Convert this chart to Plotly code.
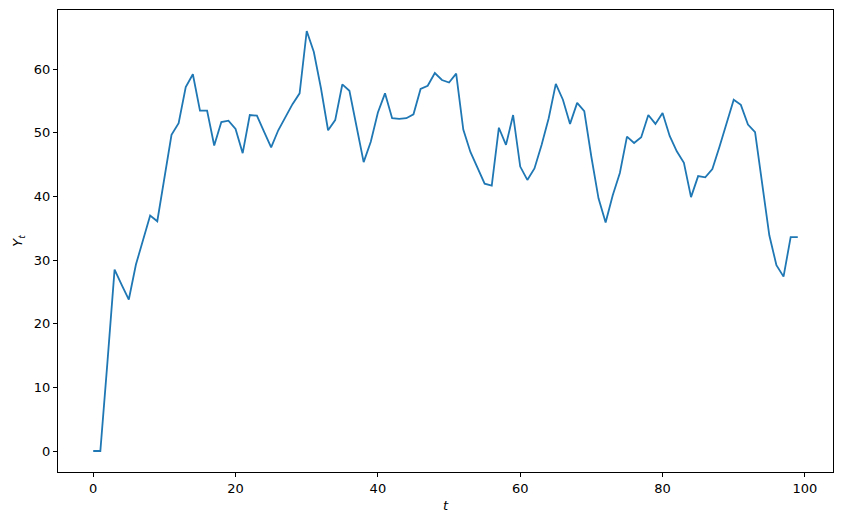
import plotly.graph_objects as go

t = list(range(100))
y = [0.0, 0.0, 14.0, 28.5, 26.1, 23.8, 29.3, 33.1, 37.0, 36.1,
     43.1, 49.7, 51.5, 57.2, 59.2, 53.5, 53.5, 48.0, 51.7, 51.9,
     50.6, 46.8, 52.8, 52.7, 50.2, 47.7, 50.4, 52.5, 54.5, 56.2,
     66.0, 62.7, 57.0, 50.4, 52.0, 57.6, 56.6, 51.0, 45.4, 48.6,
     53.2, 56.2, 52.3, 52.2, 52.3, 52.9, 56.9, 57.4, 59.4, 58.3,
     57.9, 59.3, 50.5, 47.0, 44.6, 42.0, 41.7, 50.8, 48.1, 52.8,
     44.7, 42.6, 44.4, 48.1, 52.3, 57.7, 55.2, 51.4, 54.7, 53.4,
     46.2, 39.7, 35.9, 40.2, 43.7, 49.4, 48.4, 49.3, 52.8, 51.4,
     53.1, 49.5, 47.1, 45.3, 39.9, 43.2, 43.0, 44.3, 47.8, 51.4,
     55.2, 54.4, 51.3, 50.1, 41.6, 33.9, 29.2, 27.4, 33.6, 33.6]

x_ticks = [0, 20, 40, 60, 80, 100]
y_ticks = [0, 10, 20, 30, 40, 50, 60]

fig = go.Figure()
fig.add_trace(go.Scatter(x=t, y=y, mode="lines",
                         line=dict(color="#1f77b4", width=1.8),
                         showlegend=False))

axis_common = dict(showline=True, linecolor="black", linewidth=1, mirror=True,
                   ticks="outside", ticklen=4, tickwidth=1, tickcolor="black",
                   showgrid=False, zeroline=False, automargin=False,
                   tickfont=dict(family="DejaVu Sans", size=13, color="black"))

fig.update_layout(
    width=842, height=525,
    margin=dict(l=58, r=9, t=10, b=53, autoexpand=False),
    paper_bgcolor="white", plot_bgcolor="white",
    xaxis=dict(range=[-4.95, 103.95], tickvals=x_ticks,
               title=dict(text="<i>t</i>", font=dict(family="DejaVu Sans", size=13, color="black"), standoff=6),
               **axis_common),
    yaxis=dict(range=[-3.3, 69.3], tickvals=y_ticks,
               title=dict(text="<i>Y</i><sub><i>t</i></sub>", font=dict(family="DejaVu Sans", size=13, color="black"), standoff=8),
               **axis_common),
)

fig.write_html("out.html",
               config={"displayModeBar": False},
               post_script="document.body.style.margin='0';document.body.style.overflow='hidden';")
